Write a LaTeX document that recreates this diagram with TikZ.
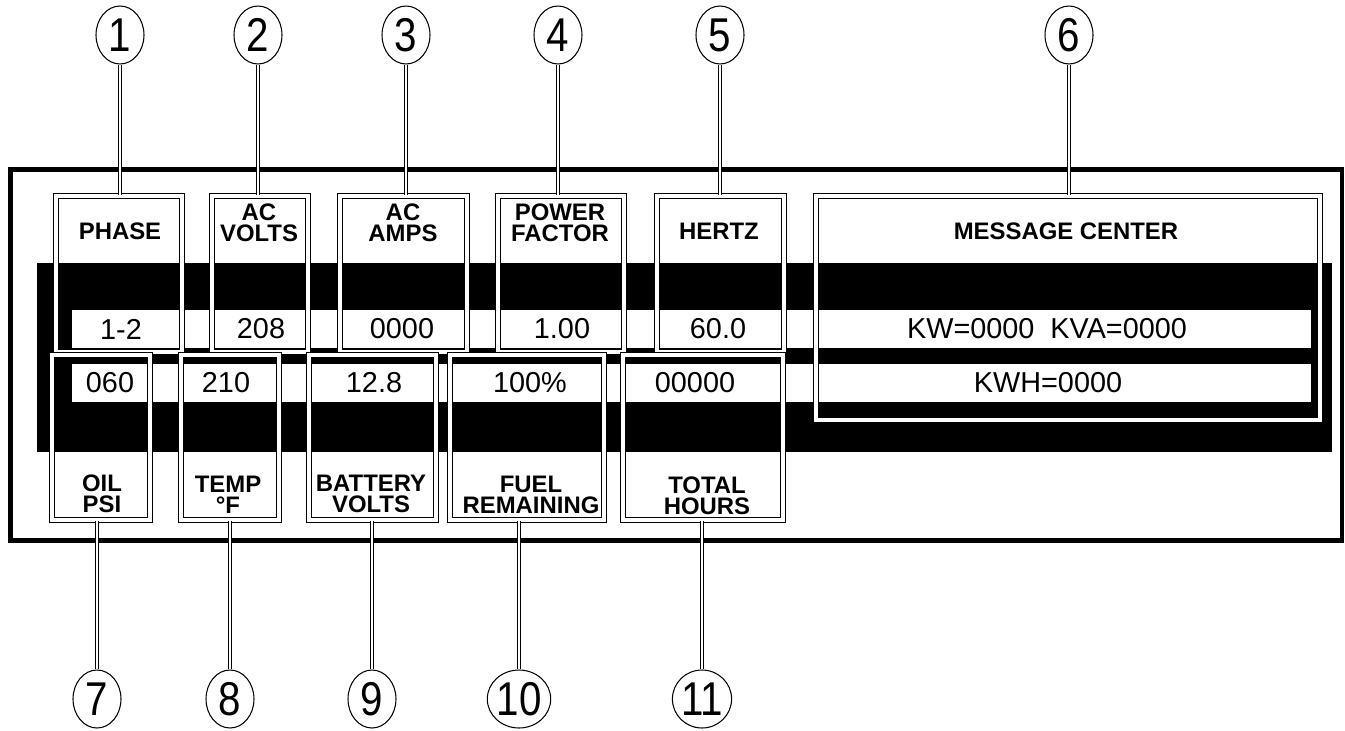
\documentclass[tikz,border=0pt]{standalone}
\usepackage{fontspec}
\setmainfont{Liberation Sans}
\newfontfamily\numfont[FakeStretch=0.85]{Liberation Sans}
\usetikzlibrary{shapes.geometric}

\begin{document}
\begin{tikzpicture}[
  x=0.02cm, y=-0.02cm,
  dbox/.style 2 args={draw, line width=0.9pt, double=white, double distance=1.9pt, inner sep=0pt, minimum width=#1*0.02cm, minimum height=#2*0.02cm},
  lead/.style={line width=0.6pt, double=white, double distance=1.2pt},
  num/.style={draw, ellipse, line width=0.6pt, inner sep=0pt, minimum width=0.96cm, minimum height=1.16cm, font=\numfont\fontsize{27}{30}\selectfont},
  lbl/.style={align=center, inner sep=0pt, font=\fontsize{13.6}{11.8}\selectfont\bfseries},
  val/.style={inner sep=0pt, font=\fontsize{16.4}{19}\selectfont}
]
\useasboundingbox (0,0) rectangle (1345,730);
\fill[white] (0,0) rectangle (1345,730);

% panel
\draw[line width=2.8pt] (10.5,169.5) rectangle (1342,540.5);
\fill (37,263) rectangle (1332,452);
\fill[white] (72,310) rectangle (1311,348);
\fill[white] (72,364) rectangle (1311,402);

% display windows
\node[dbox={126}{156}] (phase) at (119,274) {};
\node[dbox={96}{156}] (acv) at (260,274) {};
\node[dbox={127}{156}] (aca) at (403.5,274) {};
\node[dbox={126}{156}] (pf) at (561,274) {};
\node[dbox={127}{156}] (hz) at (720.5,274) {};
\node[dbox={504}{224}] (msg) at (1068,308) {};
\node[dbox={98}{165}] (oil) at (101,437.5) {};
\node[dbox={98}{165}] (temp) at (230,437.5) {};
\node[dbox={127}{165}] (batt) at (372.5,437.5) {};
\node[dbox={154}{165}] (fuel) at (527,437.5) {};
\node[dbox={160}{165}] (hrs) at (703,437.5) {};

% labels
\node[lbl] (phaseL) at (120,231) {PHASE};
\node[lbl] (acvL) at (259,223) {AC\\VOLTS};
\node[lbl] (acaL) at (403,223) {AC\\AMPS};
\node[lbl] (pfL) at (560,223) {POWER\\FACTOR};
\node[lbl] (hzL) at (719,231) {HERTZ};
\node[lbl] (msgL) at (1066,231) {MESSAGE CENTER};
\node[lbl] (oilL) at (102,494) {OIL\\PSI};
\node[lbl] (tempL) at (228,495) {TEMP\\°F};
\node[lbl] (battL) at (371,494) {BATTERY\\VOLTS};
\node[lbl] (fuelL) at (531,495) {FUEL\\REMAINING};
\node[lbl] (hrsL) at (707,496) {TOTAL\\HOURS};

% readings
\node[val] (phaseV) at (121,329) {1-2};
\node[val] (acvV) at (261,329) {208};
\node[val] (acaV) at (402,329) {0000};
\node[val] (pfV) at (562,329) {1.00};
\node[val] (hzV) at (718,329) {60.0};
\node[val] (kwV) at (1047,329) {KW=0000\ \ KVA=0000};
\node[val] (oilV) at (110,383) {060};
\node[val] (tempV) at (226,383) {210};
\node[val] (battV) at (374,383) {12.8};
\node[val] (fuelV) at (530,383) {100\%};
\node[val] (hrsV) at (695,383) {00000};
\node[val] (kwhV) at (1048,383) {KWH=0000};

% callouts
\node[num] (n1) at (120,35) {1};
\node[num] (n2) at (258,35) {2};
\node[num] (n3) at (406,35) {3};
\node[num] (n4) at (558,35) {4};
\node[num] (n5) at (720,35) {5};
\node[num] (n6) at (1069,35) {6};
\node[num] (n7) at (97,699) {7};
\node[num] (n8) at (230,699) {8};
\node[num] (n9) at (372,699) {9};
\node[num] (n10) at (519,699) {10};
\node[num] (n11) at (702,699) {11};

\draw[lead] (n1.south) -- (n1.south |- phase.north);
\draw[lead] (n2.south) -- (n2.south |- acv.north);
\draw[lead] (n3.south) -- (n3.south |- aca.north);
\draw[lead] (n4.south) -- (n4.south |- pf.north);
\draw[lead] (n5.south) -- (n5.south |- hz.north);
\draw[lead] (n6.south) -- (n6.south |- msg.north);
\draw[lead] (n7.north) -- (n7.north |- oil.south);
\draw[lead] (n8.north) -- (n8.north |- temp.south);
\draw[lead] (n9.north) -- (n9.north |- batt.south);
\draw[lead] (n10.north) -- (n10.north |- fuel.south);
\draw[lead] (n11.north) -- (n11.north |- hrs.south);
\end{tikzpicture}
\end{document}
